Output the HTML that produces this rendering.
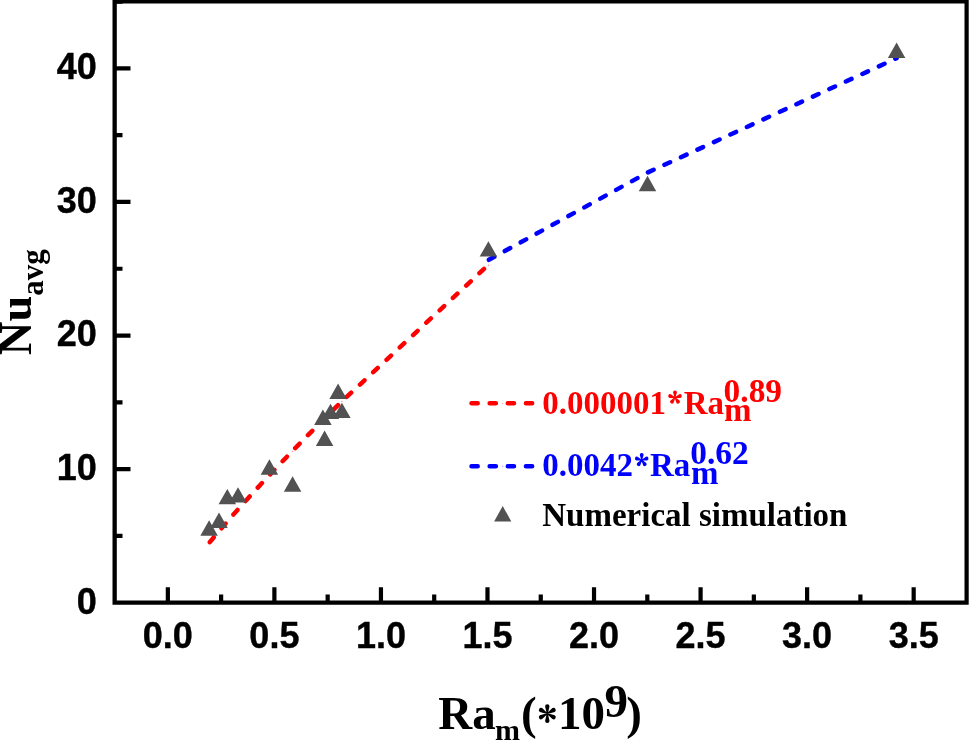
<!DOCTYPE html>
<html><head><meta charset="utf-8"><style>
html,body{margin:0;padding:0;background:#fff;width:969px;height:741px;overflow:hidden}
svg{display:block;will-change:transform}
.tk{font-family:"Liberation Sans",sans-serif;font-weight:bold;font-size:36px;fill:#000;stroke:#000;stroke-width:0.4px;stroke-linejoin:round}
.sf{font-family:"Liberation Serif",serif;font-weight:bold}
</style></head><body>
<svg width="969" height="741" viewBox="0 0 969 741">
<rect x="0" y="0" width="969" height="741" fill="#fff"/>
<path d="M209.80 542.15 L212.87 538.46 L215.93 534.80 L219.00 531.17 L223.15 526.32 L227.30 521.52 L230.87 517.43 L234.43 513.38 L238.00 509.36 L241.14 505.85 L244.28 502.35 L247.42 498.89 L250.56 495.44 L253.70 492.01 L256.84 488.60 L259.98 485.20 L263.12 481.83 L266.26 478.47 L269.40 475.12 L272.71 471.61 L276.03 468.12 L279.34 464.64 L282.66 461.17 L285.97 457.72 L289.29 454.29 L292.60 450.87 L295.63 447.75 L298.66 444.65 L301.69 441.55 L304.72 438.47 L307.75 435.40 L310.78 432.33 L313.81 429.28 L316.84 426.24 L319.87 423.20 L322.90 420.18 L324.60 418.48 L330.50 412.62 L334.30 408.87 L338.10 405.13 L341.90 401.39 L488.40 264.87" fill="none" stroke="#ff0000" stroke-width="4.5" stroke-linecap="round" stroke-dasharray="6.2 11.95"/>
<path d="M488.9 259.83 L647.5 172.6 L896.6 58.2" fill="none" stroke="#0000ff" stroke-width="4.5" stroke-linecap="round" stroke-dasharray="6.2 11.95"/>
<g fill="#ff0000" opacity="0.45"><circle cx="292.4" cy="451.4" r="0.7"/><circle cx="341.9" cy="401.4" r="0.7"/><circle cx="488.4" cy="265.3" r="0.8"/><circle cx="502.7" cy="403.3" r="0.6"/></g>
<circle cx="502.7" cy="466.2" r="0.6" fill="#0000ff" opacity="0.45"/>
<path d="M209.10 520.30 L217.85 535.70 L200.35 535.70 Z M219.00 512.60 L227.75 528.00 L210.25 528.00 Z M227.30 488.90 L236.05 504.30 L218.55 504.30 Z M238.00 487.20 L246.75 502.60 L229.25 502.60 Z M269.40 459.30 L278.15 474.70 L260.65 474.70 Z M292.60 476.30 L301.35 491.70 L283.85 491.70 Z M324.60 430.60 L333.35 446.00 L315.85 446.00 Z M322.90 409.50 L331.65 424.90 L314.15 424.90 Z M330.50 403.70 L339.25 419.10 L321.75 419.10 Z M341.90 402.70 L350.65 418.10 L333.15 418.10 Z M338.10 383.60 L346.85 399.00 L329.35 399.00 Z M488.40 241.20 L497.15 256.60 L479.65 256.60 Z M647.50 175.80 L656.25 191.20 L638.75 191.20 Z M896.60 42.50 L905.35 57.90 L887.85 57.90 Z" fill="#525252"/>
<path d="M167.85 601 V587.2 M274.39 601 V587.2 M380.94 601 V587.2 M487.49 601 V587.2 M594.03 601 V587.2 M700.58 601 V587.2 M807.12 601 V587.2 M913.67 601 V587.2 M221.12 601 V594.6 M327.67 601 V594.6 M434.21 601 V594.6 M540.76 601 V594.6 M647.30 601 V594.6 M753.85 601 V594.6 M860.39 601 V594.6 M116 469.09 H130.5 M116 335.53 H130.5 M116 201.97 H130.5 M116 68.41 H130.5 M116 535.87 H122.5 M116 402.31 H122.5 M116 268.75 H122.5 M116 135.19 H122.5 M116 1.63 H122.5" stroke="#000" stroke-width="4.2" fill="none"/>
<path d="M112.5 0 H968 V604.7 H112.5 Z M116.8 3.5 V600.6 H964.5 V3.5 Z" fill="#000" fill-rule="evenodd"/>
<rect x="968" y="0" width="1" height="604.7" fill="#4a4a4a"/>
<g class="tk"><text x="167.85" y="647.6" text-anchor="middle">0.0</text><text x="274.39" y="647.6" text-anchor="middle">0.5</text><text x="380.94" y="647.6" text-anchor="middle">1.0</text><text x="487.49" y="647.6" text-anchor="middle">1.5</text><text x="594.03" y="647.6" text-anchor="middle">2.0</text><text x="700.58" y="647.6" text-anchor="middle">2.5</text><text x="807.12" y="647.6" text-anchor="middle">3.0</text><text x="913.67" y="647.6" text-anchor="middle">3.5</text><text x="96.7" y="613.55" text-anchor="end">0</text><text x="96.7" y="479.99" text-anchor="end">10</text><text x="96.7" y="346.43" text-anchor="end">20</text><text x="96.7" y="212.87" text-anchor="end">30</text><text x="96.7" y="79.31" text-anchor="end">40</text></g>
<g class="sf" font-size="47">
<text transform="translate(31,355.2) rotate(-90)" font-size="46.5">Nu<tspan font-size="31" dy="11.6">avg</tspan></text>
<text x="438.3" y="728.7">Ra</text>
<text x="495.1" y="740.1" font-size="30">m</text>
<text x="521" y="728.7">(</text>
<text x="558" y="728.7">10</text>
<text x="604.5" y="717.4">9</text>
<text x="626.3" y="728.7">)</text>
<path d="M547.80 713.60 L549.50 706.40 A2.20 2.20 0 1 0 545.10 706.40 L546.80 713.60 Z M547.55 714.03 L554.64 711.91 A2.20 2.20 0 1 0 552.44 708.09 L547.05 713.17 Z M547.05 714.03 L552.44 719.11 A2.20 2.20 0 1 0 554.64 715.29 L547.55 713.17 Z M546.80 713.60 L545.10 720.80 A2.20 2.20 0 1 0 549.50 720.80 L547.80 713.60 Z M547.05 713.17 L539.96 715.29 A2.20 2.20 0 1 0 542.16 719.11 L547.55 714.03 Z M547.55 713.17 L542.16 708.09 A2.20 2.20 0 1 0 539.96 711.91 L547.05 714.03 Z" fill="#000"/>
</g>
<path d="M471.5 403.3 H533" stroke="#ff0000" stroke-width="4.5" stroke-linecap="round" stroke-dasharray="6.2 11.95"/>
<path d="M471.5 466.2 H533" stroke="#0000ff" stroke-width="4.5" stroke-linecap="round" stroke-dasharray="6.2 11.95"/>
<path d="M502.7 506.1 L511.3 521.4 L494.1 521.4 Z" fill="#525252"/>
<g class="sf" font-size="33">
<text transform="translate(542.30 413.50) scale(1 1.035)" fill="#ff0000">0.000001</text>
<text transform="translate(683.70 413.50) scale(1 1.035)" fill="#ff0000">Ra</text>
<text transform="translate(724.00 420.90) scale(1 1.030)" fill="#ff0000">m</text>
<text transform="translate(723.60 402.30) scale(1 1.030)" fill="#ff0000" font-size="33.4">0.89</text>
<text transform="translate(542.30 475.50) scale(1 1.035)" fill="#0000ff">0.0042</text>
<text transform="translate(650.00 475.50) scale(1 1.035)" fill="#0000ff">Ra</text>
<text transform="translate(691.00 483.60) scale(1 1.030)" fill="#0000ff">m</text>
<text transform="translate(690.20 464.30) scale(1 1.030)" fill="#0000ff" font-size="33.4">0.62</text>
<text transform="translate(542.30 525.80) scale(1 1.040)" fill="#000">Numerical simulation</text>
<path d="M675.40 397.60 L676.95 392.55 A1.95 1.95 0 1 0 673.05 392.55 L674.60 397.60 Z M675.12 397.98 L680.41 397.89 A1.95 1.95 0 1 0 679.20 394.18 L674.88 397.22 Z M674.68 397.84 L676.39 402.83 A1.95 1.95 0 1 0 679.55 400.54 L675.32 397.36 Z M674.68 397.36 L670.45 400.54 A1.95 1.95 0 1 0 673.61 402.83 L675.32 397.84 Z M675.12 397.22 L670.80 394.18 A1.95 1.95 0 1 0 669.59 397.89 L674.88 397.98 Z" fill="#ff0000"/>
<path d="M642.10 460.10 L643.65 455.05 A1.95 1.95 0 1 0 639.75 455.05 L641.30 460.10 Z M641.82 460.48 L647.11 460.39 A1.95 1.95 0 1 0 645.90 456.68 L641.58 459.72 Z M641.38 460.34 L643.09 465.33 A1.95 1.95 0 1 0 646.25 463.04 L642.02 459.86 Z M641.38 459.86 L637.15 463.04 A1.95 1.95 0 1 0 640.31 465.33 L642.02 460.34 Z M641.82 459.72 L637.50 456.68 A1.95 1.95 0 1 0 636.29 460.39 L641.58 460.48 Z" fill="#0000ff"/>
</g>
</svg>
</body></html>
